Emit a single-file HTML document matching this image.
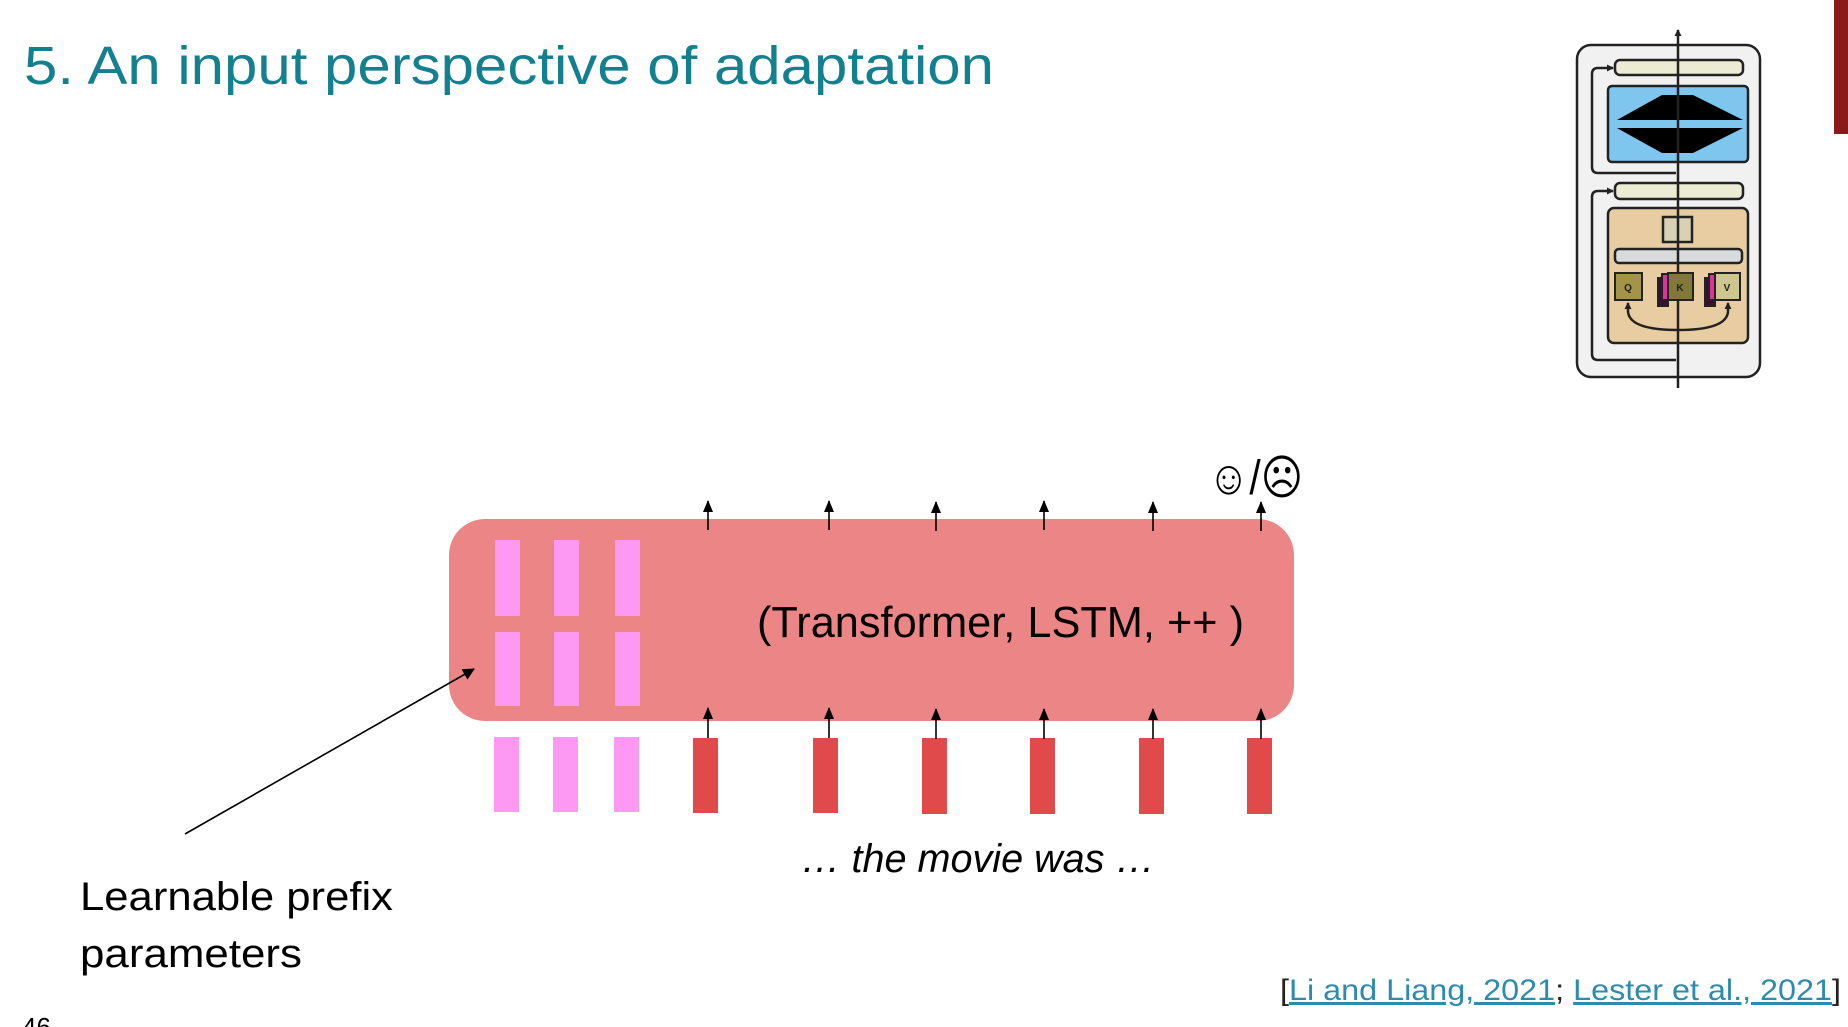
<!DOCTYPE html>
<html><head><meta charset="utf-8"><style>
html,body{margin:0;padding:0;background:#fff;}
svg{display:block;}
text{font-family:"Liberation Sans","DejaVu Sans",sans-serif;}
</style></head><body>
<svg width="1848" height="1027" viewBox="0 0 1848 1027" xmlns="http://www.w3.org/2000/svg">
<defs>
<marker id="ah" markerWidth="12" markerHeight="10" refX="11" refY="5" orient="auto" markerUnits="userSpaceOnUse" viewBox="0 0 12 10">
<path d="M0,0 L12,5 L0,10 Z" fill="#000"/></marker>
<marker id="ah2" markerWidth="12" markerHeight="12" refX="11" refY="6" orient="auto" markerUnits="userSpaceOnUse" viewBox="0 0 12 12">
<path d="M0,0 L12,6 L0,12 Z" fill="#000"/></marker>
<marker id="sm" markerWidth="7" markerHeight="7" refX="6" refY="3.5" orient="auto" markerUnits="userSpaceOnUse" viewBox="0 0 7 7">
<path d="M0,0 L7,3.5 L0,7 Z" fill="#222"/></marker>
</defs>
<rect x="1834" y="0" width="14" height="134" fill="#8b1a1a"/>
<text x="24" y="84" font-size="54" fill="#13808f" textLength="970" lengthAdjust="spacingAndGlyphs">5. An input perspective of adaptation</text>

<g stroke="#222" stroke-width="2.5">
<rect x="1577" y="45" width="183" height="332" rx="14" fill="#f1f1f1"/>
<rect x="1615" y="60" width="128" height="15" rx="5" fill="#ecebd3"/>
<rect x="1608" y="86" width="140" height="76" rx="4" fill="#7fc6ee"/>
<rect x="1615" y="183" width="128" height="16" rx="5" fill="#ecebd3"/>
<rect x="1608" y="208" width="140" height="135" rx="6" fill="#e9cda2"/>
<rect x="1663" y="217" width="29" height="25" fill="#d8d1b4"/>
<rect x="1615" y="249" width="127" height="14" rx="4" fill="#d8dadb"/>
</g>
<polygon points="1617,120 1662,95 1693,95 1743,120" fill="#000"/>
<polygon points="1617,128 1743,128 1693,153 1662,153" fill="#000"/>
<g stroke="#222" stroke-width="2.5" fill="none">
<line x1="1678" y1="388" x2="1678" y2="30" marker-end="url(#sm)"/>
<path d="M1676,173 L1598,173 Q1592,173 1592,167 L1592,74 Q1592,68 1598,68 L1613,68" marker-end="url(#sm)"/>
<path d="M1676,360 L1598,360 Q1592,360 1592,354 L1592,197 Q1592,191 1598,191 L1613,191" marker-end="url(#sm)"/>
<path d="M1628,312 Q1630,330 1678,330 Q1726,330 1728,312 L1728,303" marker-end="url(#sm)"/>
<path d="M1628,312 L1628,303" marker-end="url(#sm)"/>
</g>
<g stroke="#222" stroke-width="2">
<rect x="1658" y="278" width="10" height="28" fill="#3a1030"/>
<rect x="1662" y="274" width="8" height="26" fill="#e0309a"/>
<rect x="1705" y="278" width="10" height="28" fill="#3a1030"/>
<rect x="1709" y="274" width="8" height="26" fill="#e0309a"/>
<rect x="1615" y="273" width="27" height="27" fill="#a39446"/>
<rect x="1668" y="273" width="25" height="27" fill="#82783a"/>
<rect x="1715" y="273" width="25" height="27" fill="#cfc58e"/>
</g>
<text x="1628" y="291" font-size="10" font-weight="bold" text-anchor="middle" fill="#222">Q</text>
<text x="1680" y="291" font-size="10" font-weight="bold" text-anchor="middle" fill="#222">K</text>
<text x="1727" y="291" font-size="10" font-weight="bold" text-anchor="middle" fill="#222">V</text>

<rect x="449" y="519" width="845" height="202" rx="36" fill="#ec8686"/>
<g fill="#fd98f3">
<rect x="495" y="540" width="25" height="76"/><rect x="554" y="540" width="25" height="76"/><rect x="615" y="540" width="25" height="76"/>
<rect x="495" y="632" width="25" height="74"/><rect x="554" y="632" width="25" height="74"/><rect x="615" y="632" width="25" height="74"/>
<rect x="494" y="737" width="25" height="75"/><rect x="553" y="737" width="25" height="75"/><rect x="614" y="737" width="25" height="75"/>
</g>
<g fill="#e04a4a">
<rect x="693" y="738" width="25" height="75"/><rect x="813" y="738" width="25" height="75"/><rect x="922" y="738" width="25" height="76"/>
<rect x="1030" y="738" width="25" height="76"/><rect x="1139" y="738" width="25" height="76"/><rect x="1247" y="738" width="25" height="76"/>
</g>
<g stroke="#000" stroke-width="1.6">
<line x1="708" y1="530" x2="708" y2="501" marker-end="url(#ah)"/>
<line x1="829" y1="530" x2="829" y2="501" marker-end="url(#ah)"/>
<line x1="936" y1="531" x2="936" y2="502" marker-end="url(#ah)"/>
<line x1="1044" y1="530" x2="1044" y2="501" marker-end="url(#ah)"/>
<line x1="1153" y1="531" x2="1153" y2="502" marker-end="url(#ah)"/>
<line x1="1261" y1="531" x2="1261" y2="502" marker-end="url(#ah)"/>
<line x1="708" y1="738" x2="708" y2="708" marker-end="url(#ah)"/>
<line x1="829" y1="738" x2="829" y2="708" marker-end="url(#ah)"/>
<line x1="936" y1="739" x2="936" y2="709" marker-end="url(#ah)"/>
<line x1="1044" y1="739" x2="1044" y2="709" marker-end="url(#ah)"/>
<line x1="1153" y1="739" x2="1153" y2="709" marker-end="url(#ah)"/>
<line x1="1261" y1="739" x2="1261" y2="709" marker-end="url(#ah)"/>
<line x1="185" y1="834" x2="474" y2="669" marker-end="url(#ah2)"/>
</g>
<text x="757" y="637" font-size="44" fill="#000" textLength="487" lengthAdjust="spacingAndGlyphs">(Transformer, LSTM, ++ )</text>
<text x="1208" y="494" font-size="48" fill="#000" font-family="DejaVu Sans" textLength="95" lengthAdjust="spacingAndGlyphs">☺/☹</text>
<text x="801" y="872" font-size="40" font-style="italic" fill="#000" textLength="354" lengthAdjust="spacingAndGlyphs">… the movie was …</text>
<text x="80" y="910" font-size="40" fill="#000" textLength="313" lengthAdjust="spacingAndGlyphs">Learnable prefix</text>
<text x="80" y="967" font-size="40" fill="#000" textLength="222" lengthAdjust="spacingAndGlyphs">parameters</text>
<text x="22" y="1036" font-size="26" fill="#000">46</text>
<text x="1280" y="1000" font-size="30" fill="#2e8bb0" textLength="561" lengthAdjust="spacingAndGlyphs"><tspan fill="#222">[</tspan><tspan text-decoration="underline">Li and Liang, 2021</tspan><tspan fill="#222">; </tspan><tspan text-decoration="underline">Lester et al., 2021</tspan><tspan fill="#222">]</tspan></text>
</svg>
</body></html>
